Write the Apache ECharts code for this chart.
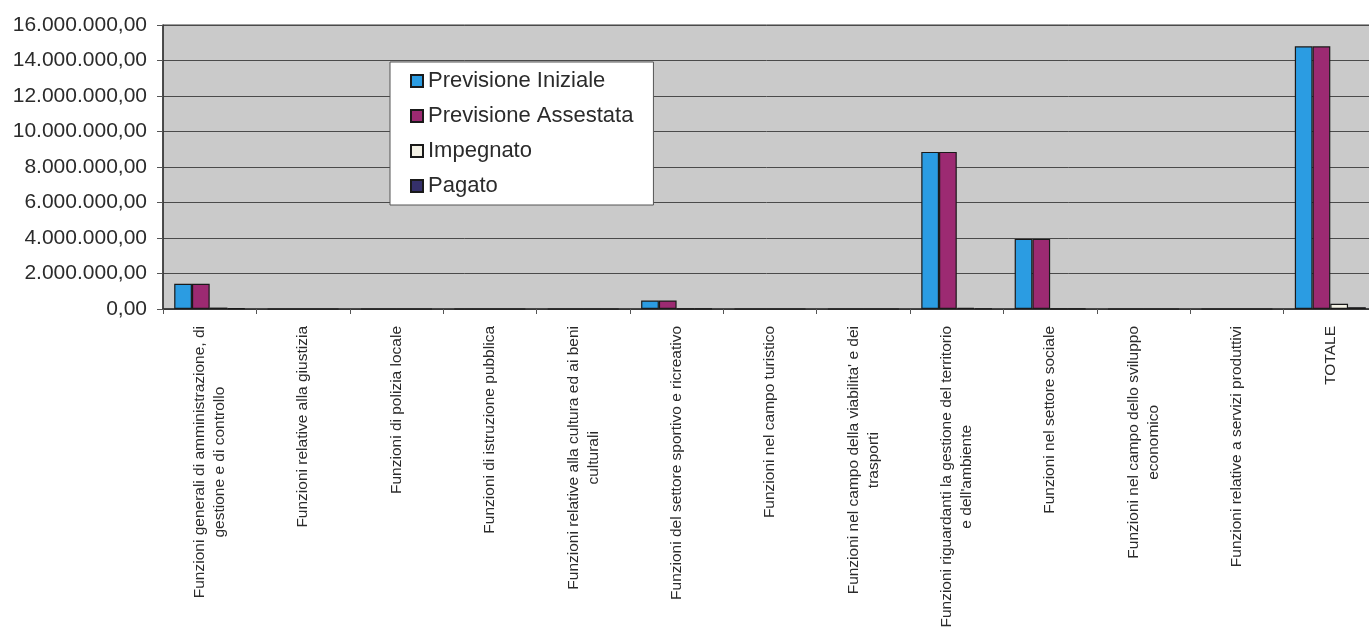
<!DOCTYPE html>
<html>
<head>
<meta charset="utf-8">
<title>Spese per funzioni</title>
<script src="https://cdn.jsdelivr.net/npm/echarts@6/dist/echarts.min.js"></script>
<style>
  html, body { margin: 0; padding: 0; background: #fff; }
  #chart { width: 1369px; height: 628px; }
</style>
</head>
<body>
<div id="chart"></div>
<script>
// categorie (funzioni)
const categories = [
  'Funzioni generali di amministrazione, di\ngestione e di controllo',
  'Funzioni relative alla giustizia',
  'Funzioni di polizia locale',
  'Funzioni di istruzione pubblica',
  'Funzioni relative alla cultura ed ai beni\nculturali',
  'Funzioni del settore sportivo e ricreativo',
  'Funzioni nel campo turistico',
  "Funzioni nel campo della viabilita' e dei\ntrasporti",
  "Funzioni riguardanti la gestione del territorio\ne dell'ambiente",
  'Funzioni nel settore sociale',
  'Funzioni nel campo dello sviluppo\neconomico',
  'Funzioni relative a servizi produttivi',
  'TOTALE'
];

// valori
const previsioneIniziale = [1420000, 0, 0, 0, 0, 480000, 0, 0, 8850000, 3950000, 0, 0, 14800000];
const previsioneAssestata = [1420000, 0, 0, 0, 0, 480000, 0, 0, 8850000, 3950000, 0, 0, 14800000];
const impegnato = [80000, 0, 0, 0, 0, 20000, 0, 0, 60000, 10000, 0, 0, 300000];
const pagato = [40000, 0, 0, 0, 0, 10000, 0, 0, 30000, 5000, 0, 0, 100000];

// asse y
const yMin = 0;
const yMax = 16000000;
const yStep = 2000000;

const seriesNames = ['Previsione Iniziale', 'Previsione Assestata', 'Impegnato', 'Pagato'];
const seriesColors = ['#2b9ce2', '#9c2a72', '#f4f2e6', '#35306a'];

const fontFamily = "'Liberation Sans', Arial, sans-serif";
const textColor = '#2b2b2b';

// formato italiano: 16.000.000,00
function formatIt(v) {
  const parts = Math.round(v).toString().replace(/\B(?=(\d{3})+(?!\d))/g, '.');
  return parts + ',00';
}

const chart = echarts.init(document.getElementById('chart'));

const seriesData = [previsioneIniziale, previsioneAssestata, impegnato, pagato];
const series = seriesData.map((data, i) => {
  return {
    name: seriesNames[i],
    type: 'bar',
    barGap: '0%',
    barCategoryGap: '24%',
    itemStyle: {
      color: seriesColors[i],
      borderColor: '#1a1a1a',
      borderWidth: 1.2
    },
    data: data
  };
});

const option = {
  animation: false,
  backgroundColor: '#ffffff',
  textStyle: { fontFamily: fontFamily },
  grid: {
    left: 163,
    top: 25,
    right: -8,
    bottom: 319,
    outerBoundsMode: 'none', // la griglia esce a destra come nell'originale
    show: true,
    backgroundColor: '#cacaca',
    borderColor: '#3a3a3a',
    borderWidth: 1
  },
  legend: {
    data: seriesNames,
    orient: 'vertical',
    left: 390,
    top: 62,
    icon: 'rect',
    itemWidth: 12,
    itemHeight: 12,
    itemGap: 13,
    padding: [8, 20, 8, 20],
    backgroundColor: '#ffffff',
    borderColor: '#555',
    borderWidth: 1,
    textStyle: {
      fontSize: 22,
      lineHeight: 22,
      color: textColor,
      fontFamily: fontFamily
    }
  },
  xAxis: {
    type: 'category',
    data: categories,
    axisLine: { lineStyle: { color: '#333', width: 1.5 } },
    axisTick: { show: true, length: 5, lineStyle: { color: '#555' } },
    axisLabel: {
      interval: 0,
      rotate: 90,
      margin: 17,
      color: textColor,
      formatter: value => value.split('\n').map(l => '{c|' + l + '}').join('\n'),
      rich: {
        c: {
          align: 'center',
          fontSize: 15.5,
          lineHeight: 20,
          color: textColor,
          fontFamily: fontFamily
        }
      }
    }
  },
  yAxis: {
    type: 'value',
    min: yMin,
    max: yMax,
    interval: yStep,
    axisLine: { show: true, lineStyle: { color: '#333', width: 1.5 } },
    axisTick: { show: true, length: 6, lineStyle: { color: '#555' } },
    splitLine: { lineStyle: { color: '#4a4a4a', width: 1 } },
    axisLabel: {
      margin: 16,
      fontSize: 21,
      color: textColor,
      fontFamily: fontFamily,
      formatter: formatIt
    }
  },
  series: series
};

chart.setOption(option);
window.addEventListener('resize', () => chart.resize());
</script>
</body>
</html>
